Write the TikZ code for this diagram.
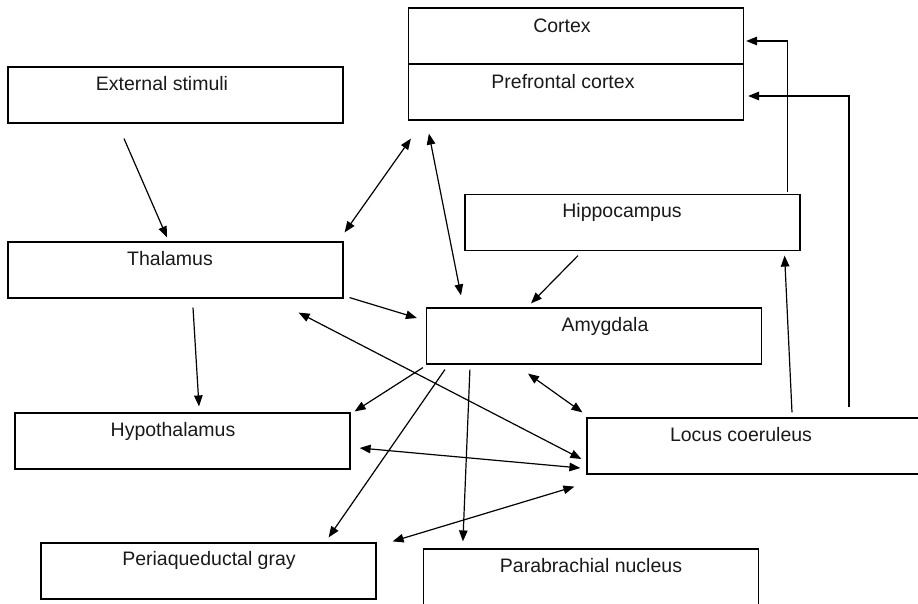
\documentclass[tikz,border=0pt]{standalone}
\usepackage{fontspec}
\setmainfont{Liberation Sans}
\usetikzlibrary{arrows.meta}

\begin{document}
\begin{tikzpicture}[x=1pt,y=-1pt,
  region/.style={draw,line width=1.2pt,minimum width=335pt,minimum height=56pt,inner sep=0pt},
  lbl/.style={font=\fontsize{19.5}{22}\selectfont,text=black!90,inner sep=0pt,text height=0.72em,text depth=0pt},
  link/.style={line width=1.2pt,-{Triangle[length=11pt,width=8.5pt]}},
  twoway/.style={line width=1.2pt,{Triangle[length=11pt,width=8.5pt]}-{Triangle[length=11pt,width=8.5pt]}}]
\useasboundingbox (0,0) rectangle (918,604);
\clip (0,0) rectangle (918,604);

% boxes
\node[region] (cortex) at (576,36) {};
\node[region] (pfc) at (576,92) {};
\node[region] (ext) at (175.5,95) {};
\node[region] (thal) at (175.5,270) {};
\node[region] (hippo) at (632.5,222.5) {};
\node[region] (amyg) at (594,336) {};
\node[region,minimum width=340pt] (locus) at (757,446) {};
\node[region] (hypo) at (182.5,441) {};
\node[region] (pag) at (208.5,571) {};
\node[region] (para) at (591,577) {};

% texts
\node[lbl] (cortex_t) at (562,29) {Cortex};
\node[lbl] (pfc_t) at (563,85) {Prefrontal cortex};
\node[lbl] (ext_t) at (162,87) {External stimuli};
\node[lbl] (thal_t) at (170,262) {Thalamus};
\node[lbl] (hippo_t) at (622,214) {Hippocampus};
\node[lbl] (amyg_t) at (605,328) {Amygdala};
\node[lbl] (locus_t) at (741,438) {Locus coeruleus};
\node[lbl] (hypo_t) at (173,433) {Hypothalamus};
\node[lbl] (pag_t) at (209,562) {Periaqueductal gray};
\node[lbl] (para_t) at (591,569) {Parabrachial nucleus};

% connections
\draw[link] ([shift={(-51.5,15)}]ext.south) -- ([shift={(-8.5,-4)}]thal.north);
\draw[twoway] ([shift={(1,-9)}]thal.north east) -- ([shift={(3,18)}]pfc.south west);
\draw[twoway] ([shift={(21,13)}]pfc.south west) -- ([shift={(-133,-12)}]amyg.north);
\draw[link] ([shift={(6,-1)}]thal.south east) -- ([shift={(-9,-18)}]amyg.west);
\draw[twoway] ([shift={(-45,14)}]thal.south east) -- ([shift={(-5,13)}]locus.west);
\draw[link] ([shift={(17.5,9)}]thal.south) -- ([shift={(16.5,-6)}]hypo.north);
\draw[link] ([shift={(-54.5,4.5)}]hippo.south) -- ([shift={(-63,-4)}]amyg.north);
\draw[link] ([shift={(35,-5)}]locus.north) -- ([shift={(-16,4.5)}]hippo.south east);
\draw[link] ([shift={(-13,-2)}]hippo.north east) |- ([shift={(2,5)}]cortex.east);
\draw[link] ([shift={(92,-10)}]locus.north) |- ([shift={(4,4)}]pfc.east);
\draw[twoway] ([shift={(-66,9)}]amyg.south) -- ([shift={(-4,-5)}]locus.north west);
\draw[link] ([shift={(-3,3)}]amyg.south west) -- ([shift={(4,-1)}]hypo.north east);
\draw[link] ([shift={(19,5)}]amyg.south west) -- ([shift={(-48,-5)}]pag.north east);
\draw[link] ([shift={(44,5)}]amyg.south west) -- ([shift={(40,-7)}]para.north west);
\draw[twoway] ([shift={(9,7)}]hypo.east) -- ([shift={(-6,22)}]locus.west);
\draw[twoway] ([shift={(16,-1)}]pag.north east) -- ([shift={(-12,12)}]locus.south west);

\end{tikzpicture}
\end{document}
